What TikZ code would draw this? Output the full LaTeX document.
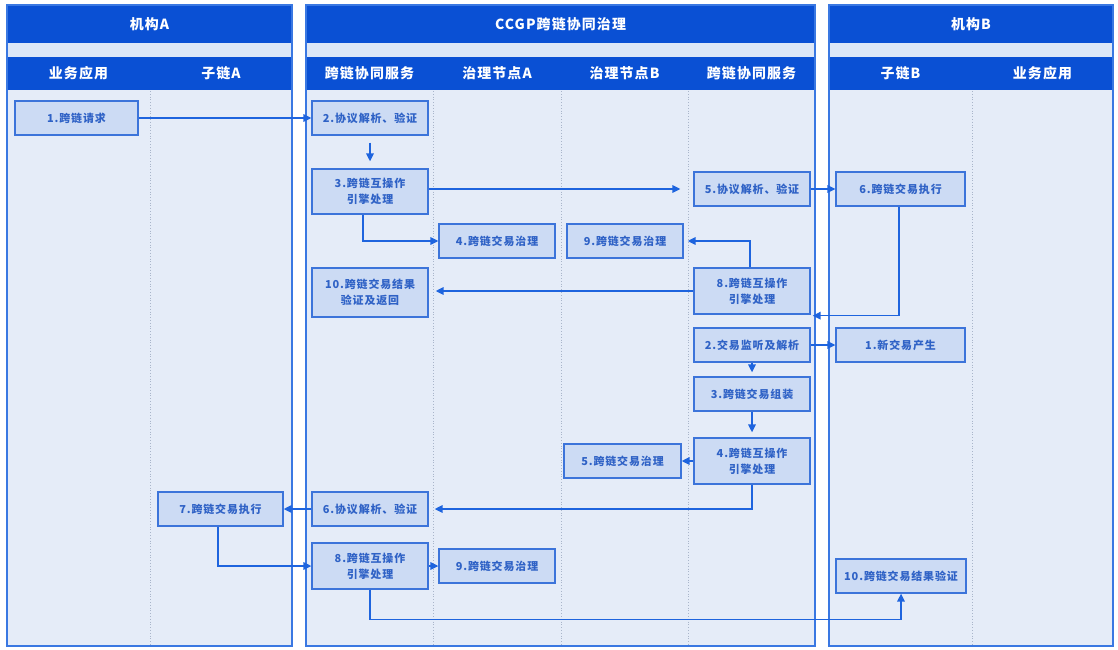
\documentclass[tikz,border=0pt]{standalone}
\usepackage{fontspec}
\setmainfont{Noto Sans CJK SC}
\newfontfamily\cjk{Noto Sans CJK SC}[LetterSpace=8]
\usetikzlibrary{positioning,arrows.meta}
\definecolor{titleblue}{HTML}{0A50D4}
\definecolor{lanebg}{HTML}{E5ECF8}
\definecolor{stripbg}{HTML}{DDE7F7}
\definecolor{laneline}{HTML}{3A78E2}
\definecolor{stepfill}{HTML}{CCDBF4}
\definecolor{stepline}{HTML}{3C74DA}
\definecolor{steptext}{HTML}{2F62C6}
\definecolor{flowblue}{HTML}{1E64DE}
\definecolor{divgray}{HTML}{A9B5CA}
\newcommand {\lanepanel} [ 2 ] {%
\fill[lanebg] (#1,5) rectangle (#2,646);
\fill[titleblue] (#1,5) rectangle (#2,43);
\fill[stripbg] (#1,43) rectangle (#2,57);
\fill[titleblue] (#1,57) rectangle (#2,90);
\draw[laneline,line width=1.5bp] (#1,5) rectangle (#2,646);
}
\tikzset{
  lanehead/.style={text=white, font=\cjk\bfseries\fontsize{14}{16}\selectfont},
  divider/.style={divgray, line width=0.8bp, dotted},
  stepbox/.style={draw=stepline, fill=stepfill, line width=1.3bp, text=steptext,
    font=\cjk\bfseries\fontsize{11}{16}\selectfont, align=center,
    minimum width=116bp, minimum height=34bp, inner sep=0pt},
  flow/.style={->, draw=flowblue, line width=1.6bp}
}
\begin{document}
\begin{tikzpicture}[x=1bp,y=-1bp,>={Triangle[length=8bp,width=7.5bp]}]
\useasboundingbox (0,0) rectangle (1118,650);

		%the three lanes
		\lanepanel{7}{292}
		\lanepanel{306}{815}
		\lanepanel{829}{1113}
		\node[lanehead] (orgA) at (149.5,24) {机构A};
		\node[lanehead] (ccgp) at (560.5,24) {CCGP跨链协同治理};
		\node[lanehead] (orgB) at (971,24) {机构B};
		\node[lanehead] (appA) at (78.5,73.5) {业务应用};
		\node[lanehead] (subA) at (221,73.5) {子链A};
		\node[lanehead] (srvA) at (369.5,73.5) {跨链协同服务};
		\node[lanehead] (govnA) at (497,73.5) {治理节点A};
		\node[lanehead] (govnB) at (624.5,73.5) {治理节点B};
		\node[lanehead] (srvB) at (751.5,73.5) {跨链协同服务};
		\node[lanehead] (subB) at (900.5,73.5) {子链B};
		\node[lanehead] (appB) at (1042.5,73.5) {业务应用};
		\draw[divider] (150,91) -- (150,645);
		\draw[divider] (433,91) -- (433,645);
		\draw[divider] (561,91) -- (561,645);
		\draw[divider] (688,91) -- (688,645);
		\draw[divider] (972,91) -- (972,645);

		%request from A to B
		\node[stepbox, minimum width=123bp] (req) at (76.5,118) {1.跨链请求};
		\node[stepbox] (parseA) at (370,118) {2.协议解析、验证};
		\node[stepbox, minimum height=45bp] (engA) at (370,191.5) {3.跨链互操作\\引擎处理};
		\node[stepbox] (govA) at (497,241) {4.跨链交易治理};
		\node[stepbox] (parseB) at (752,189) {5.协议解析、验证};
		\node[stepbox, minimum width=129bp] (execB) at (900.5,189) {6.跨链交易执行};
		\node[stepbox, minimum height=46bp] (engB) at (752,291) {8.跨链互操作\\引擎处理};
		\node[stepbox] (govB) at (625,241) {9.跨链交易治理};
		\node[stepbox, minimum height=49bp] (retA) at (370,292.5) {10.跨链交易结果\\验证及返回};
		\draw[flow] (req) -- (parseA);
		\draw[flow, shorten <=7bp, shorten >=7bp] (parseA) -- (engA);
		\draw[flow, shorten >=13bp] (engA.east |- parseB.west) -- (parseB.west);
		\draw[flow] (parseB) -- (execB);
		\draw[flow] ([xshift=-7bp]engA.south) |- (govA.west);
		\draw[flow, shorten >=4bp] ([xshift=-2bp]engB.north) |- (govB.east);
		\draw[flow] ([xshift=-1.5bp]execB.south) |- ([xshift=2bp,yshift=-1bp]engB.south east);
		\draw[flow, shorten >=7bp] (engB.west) -- (engB.west -| retA.east);

		%new transaction from B to A
		\node[stepbox, minimum width=129bp] (newtx) at (900.5,345) {1.新交易产生};
		\node[stepbox] (listen) at (752,345) {2.交易监听及解析};
		\node[stepbox] (build) at (752,394) {3.跨链交易组装};
		\node[stepbox, minimum height=46bp] (eng2B) at (752,461) {4.跨链互操作\\引擎处理};
		\node[stepbox, minimum width=117bp] (gov2B) at (622.5,461) {5.跨链交易治理};
		\node[stepbox] (parse2A) at (370,509) {6.协议解析、验证};
		\node[stepbox, minimum width=125bp] (exec2A) at (220.5,509) {7.跨链交易执行};
		\node[stepbox, minimum height=46bp] (eng2A) at (370,566) {8.跨链互操作\\引擎处理};
		\node[stepbox] (gov2A) at (497,566) {9.跨链交易治理};
		\node[stepbox, minimum width=130bp] (verB) at (901,576) {10.跨链交易结果验证};
		\draw[flow] (listen) -- (newtx);
		\draw[flow, shorten >=4bp] (listen) -- (build);
		\draw[flow, shorten >=5bp] (build) -- (eng2B);
		\draw[flow] (eng2B) -- (gov2B);
		\draw[flow, shorten >=6bp] (eng2B.south) |- (parse2A.east);
		\draw[flow] (parse2A) -- (exec2A);
		\draw[flow] ([xshift=-2.5bp]exec2A.south) |- (eng2A.west);
		\draw[flow] (eng2A) -- (gov2A);
		\draw[flow] (eng2A.south) -- ([yshift=-30bp]eng2A.south) -| (verB.south);

	\end{tikzpicture}
\end{document}
